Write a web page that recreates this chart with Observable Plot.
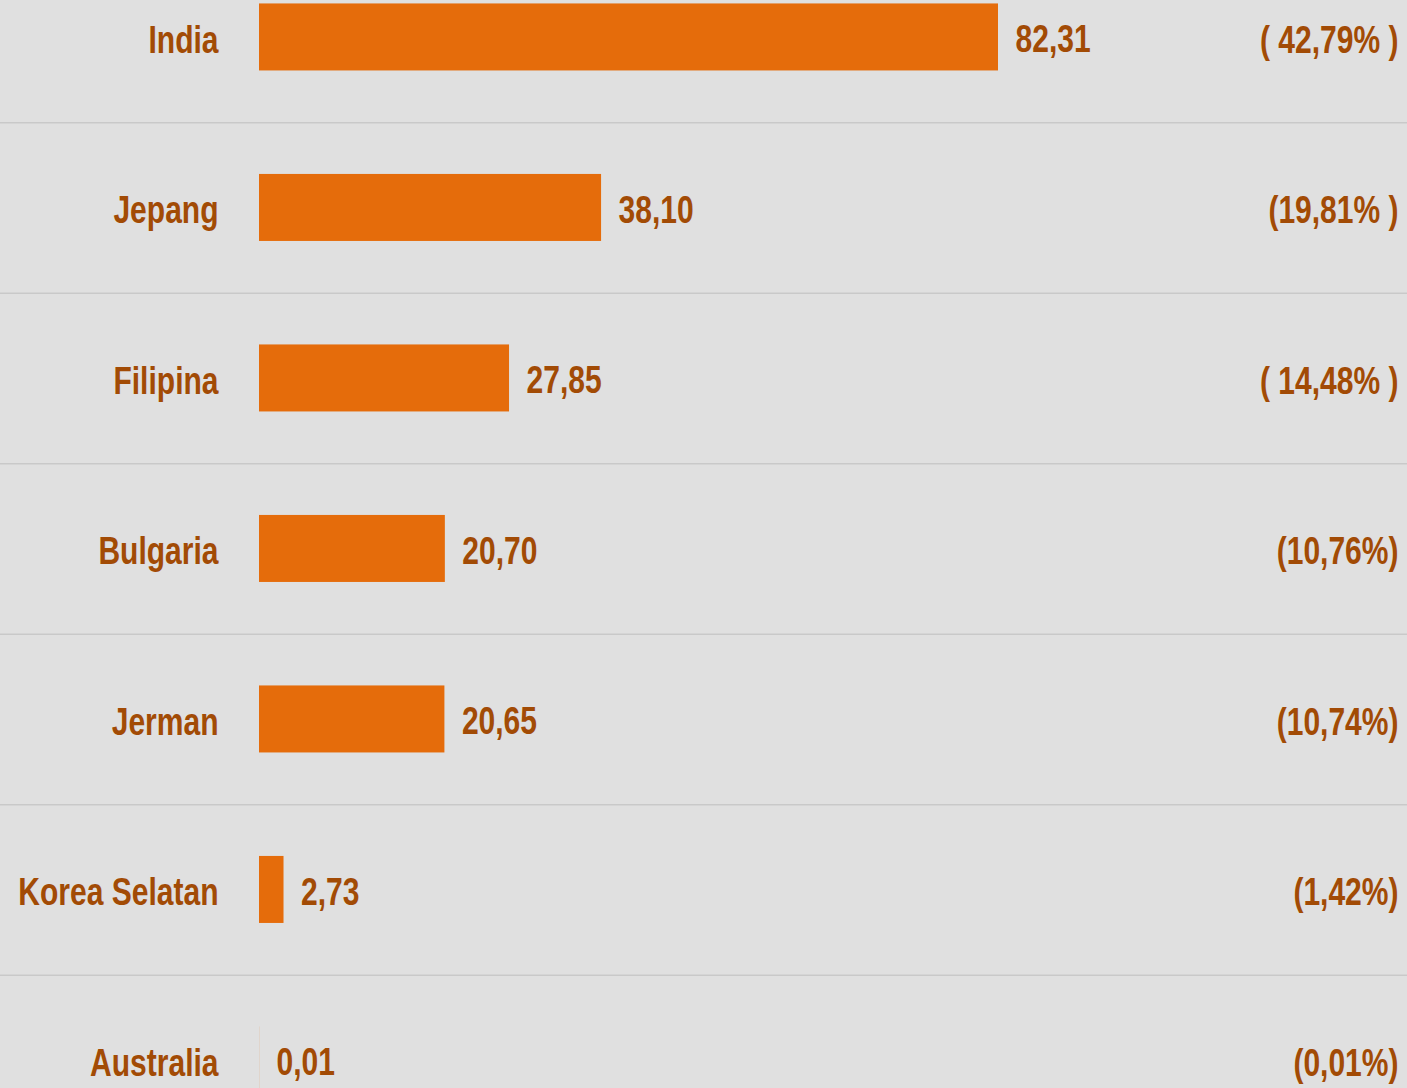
<!DOCTYPE html>
<html>
<head>
<meta charset="utf-8">
<script src="https://cdn.jsdelivr.net/npm/d3@7"></script>
<script src="https://cdn.jsdelivr.net/npm/@observablehq/plot@0.6"></script>
<style>
  html, body { margin: 0; padding: 0; background: #e0e0e0; overflow: hidden; }
  #chart svg { display: block; }
</style>
</head>
<body>
<div id="chart"></div>
<script>
const countries = ["India", "Jepang", "Filipina", "Bulgaria", "Jerman", "Korea Selatan", "Australia"];
const values = [82.31, 38.10, 27.85, 20.70, 20.65, 2.73, 0.01];
const shares = ["( 42,79% )", "(19,81% )", "( 14,48% )", "(10,76%)", "(10,74%)", "(1,42%)", "(0,01%)"];

const data = countries.map((c, i) => ({country: c, value: values[i], share: shares[i]}));
const fmt = v => v.toFixed(2).replace(".", ",");

const W = 1407, H = 1088;
const plotLeft = 259, plotRight = 1398;
const pxPerUnit = (998 - plotLeft) / 82.31;
const xMax = (plotRight - plotLeft) / pxPerUnit;
const rowStep = 170.5, rowTop = -48.3;

const font = "'Liberation Sans', Arial, sans-serif";
const textColor = "#a24b05";
const fs = 38;
const narrow = 0.79;

const chart = Plot.plot({
  width: W,
  height: H,
  marginLeft: 0,
  marginRight: 0,
  marginTop: 0,
  marginBottom: 0,
  style: {background: "#e0e0e0", fontFamily: font, overflow: "hidden"},
  x: {domain: [0, xMax], range: [plotLeft, plotRight], axis: null},
  y: {domain: countries, range: [rowTop, rowTop + rowStep * countries.length], paddingInner: 0.607, paddingOuter: 0.3035, round: false, axis: null},
  marks: [
    Plot.ruleY(countries.slice(1), {y: d => d, dy: -rowStep / 2, stroke: "#c9c9c9", strokeWidth: 1.5}),
    Plot.barX(data, {x: "value", y: "country", fill: "#e56c0b"}),
    Plot.text(data, {x: 0, y: "country", text: "country", textAnchor: "end", dx: -41, dy: 3, fontSize: fs, fontWeight: "bold", fill: textColor}),
    Plot.text(data, {x: "value", y: "country", text: d => fmt(d.value), textAnchor: "start", dx: 17, dy: 2.5, fontSize: fs, fontWeight: "bold", fill: textColor}),
    Plot.text(data, {y: "country", text: "share", frameAnchor: "right", textAnchor: "end", dx: -(W - plotRight), dy: 3, fontSize: fs, fontWeight: "bold", fill: textColor})
  ]
});

// Condense the glyphs horizontally to mimic a narrow bold face
chart.querySelectorAll("text").forEach(t => {
  const tr = t.getAttribute("transform") || "";
  t.setAttribute("transform", `${tr} scale(${narrow},1)`);
});

document.getElementById("chart").appendChild(chart);
</script>
</body>
</html>
